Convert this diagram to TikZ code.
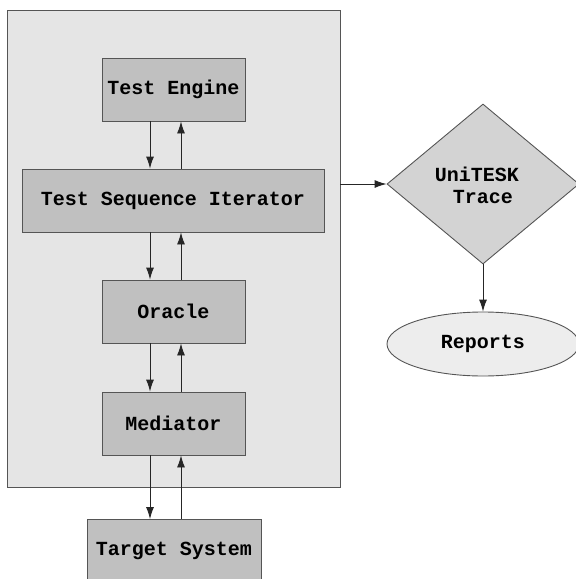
\documentclass[tikz,border=0pt]{standalone}
\usepackage{fontspec}
\setmonofont{Liberation Mono}
\usetikzlibrary{shapes.geometric,arrows.meta}
\definecolor{framefill}{HTML}{E5E5E5}
\definecolor{boxfill}{HTML}{C0C0C0}
\definecolor{diafill}{HTML}{D3D3D3}
\definecolor{ellfill}{HTML}{EDEDED}
\definecolor{edge}{HTML}{555555}
\begin{document}
\begin{tikzpicture}[x=1pt,y=-1pt,
  lbl/.style={font=\ttfamily\bfseries\fontsize{20}{23}\selectfont, text=black},
  boxnode/.style={draw=edge, line width=0.9pt, fill=boxfill, rectangle, inner sep=0pt, lbl},
  conn/.style={-{Latex[length=12pt,width=8pt]}, line width=0.9pt, draw=black!85}]
\useasboundingbox (0,0) rectangle (576,579);
\begin{scope}
\clip (0,0) rectangle (576,579);
\node[draw=edge, line width=0.9pt, fill=framefill, rectangle, minimum width=333pt, minimum height=477pt, inner sep=0pt] (frame) at (173.5,248.5) {};
\node[boxnode, minimum width=143pt, minimum height=63pt] (te) at (173.5,89.5) {Test Engine};
\node[boxnode, minimum width=302pt, minimum height=63pt] (tsi) at (173,200.5) {Test Sequence Iterator};
\node[boxnode, minimum width=143pt, minimum height=63pt] (or) at (173.5,311.5) {Oracle};
\node[boxnode, minimum width=143pt, minimum height=63pt] (med) at (173.5,423.5) {Mediator};
\node[boxnode, minimum width=174pt, minimum height=63pt] (ts) at (174,551) {Target System};
\node[draw=edge, line width=0.9pt, fill=diafill, diamond, inner sep=0pt, minimum width=192pt, minimum height=160pt] (tr) at (483,184) {};
\node[lbl, inner sep=0pt] (trl1) at (477,174) {UniTESK};
\node[lbl, inner sep=0pt] (trl2) at (483,197) {Trace};
\node[draw=edge, line width=0.9pt, fill=ellfill, ellipse, inner sep=0pt, minimum width=192pt, minimum height=64pt, lbl] (rep) at (483,344) {Reports};
\end{scope}
\draw[conn] (te.south -| 150,0) -- (tsi.north -| 150,0);
\draw[conn] (tsi.north -| 181,0) -- (te.south -| 181,0);
\draw[conn] (tsi.south -| 150,0) -- (or.north -| 150,0);
\draw[conn] (or.north -| 181,0) -- (tsi.south -| 181,0);
\draw[conn] (or.south -| 150,0) -- (med.north -| 150,0);
\draw[conn] (med.north -| 181,0) -- (or.south -| 181,0);
\draw[conn] (med.south -| 150,0) -- (ts.north -| 150,0);
\draw[conn] (ts.north -| 181,0) -- (med.south -| 181,0);
\draw[conn] (frame.east |- tr.west) -- (tr.west);
\draw[conn] (tr.south) -- (rep.north);
\end{tikzpicture}
\end{document}
